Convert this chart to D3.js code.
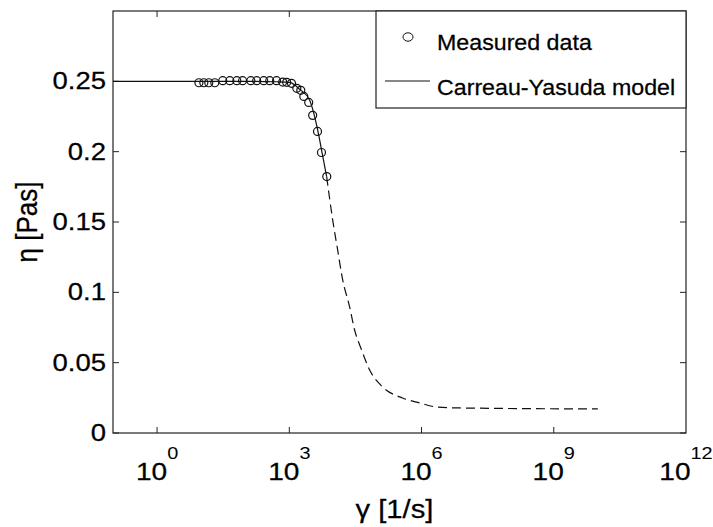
<!DOCTYPE html>
<html>
<head>
<meta charset="utf-8">
<script src="https://cdn.jsdelivr.net/npm/d3@7"></script>
<style>
  html, body { margin: 0; padding: 0; background: #fff; }
  svg { display: block; }
  text { font-family: "Liberation Sans", Arial, Helvetica, sans-serif; fill: #000; stroke: #000; stroke-width: 0.25; }
</style>
</head>
<body>
<svg id="chart" width="713" height="527"></svg>
<script>
// ---- data ----
const measuredGamma = [8.9, 11.5, 14.9, 20.4, 30.9, 44.7, 64.6, 87.1, 134, 182, 263, 360, 513,
  708, 871, 1122, 1479, 1820, 2138, 2754, 3388, 4365, 5370, 7079];
const measuredEta = [0.249, 0.249, 0.249, 0.249, 0.2505, 0.2505, 0.2505, 0.2505, 0.2505, 0.2505,
  0.2505, 0.2505, 0.2505, 0.2495, 0.2493, 0.2486, 0.245, 0.2436, 0.2393, 0.235, 0.2258, 0.2144,
  0.1994, 0.1823];

const modelSolidGamma = [0.1, 1, 10, 100, 500, 1021, 1722, 2897, 4395, 5715, 7031];
const modelSolidEta = [0.25, 0.25, 0.25, 0.25, 0.2497, 0.2493, 0.2443, 0.2365, 0.2155, 0.197, 0.1823];

const modelDashGamma = [7031, 9616, 12470, 16220, 23330, 30200, 43650, 66070, 130300, 369800,
  897000, 2.18e6, 7.24e6, 1e10];
const modelDashEta = [0.1823, 0.1517, 0.1303, 0.109, 0.0897, 0.0734, 0.0591, 0.0449, 0.0328,
  0.0249, 0.0214, 0.0185, 0.0178, 0.0171];

const xTickExponents = [0, 3, 6, 9, 12];
const yTickValues = [0, 0.05, 0.1, 0.15, 0.2, 0.25];
const yTickLabels = ["0", "0.05", "0.1", "0.15", "0.2", "0.25"];
const legendLabels = ["Measured data", "Carreau-Yasuda model"];
const xAxisLabel = "\u03B3 [1/s]";
const yAxisLabel = "\u03B7 [Pas]";

// ---- layout ----
const L = 113, R = 686, T = 11, B = 433;
const SX = 1.17; // horizontal glyph stretch seen in the reference

const svg = d3.select("#chart");
const x = d3.scaleLog().domain([0.1, 1e12]).range([L, R]);
const y = d3.scaleLinear().domain([0, 0.3]).range([B, T]);

const ink = "#111";

// frame
svg.append("rect").attr("x", L).attr("y", T).attr("width", R - L).attr("height", B - T)
  .attr("fill", "none").attr("stroke", "#222").attr("stroke-width", 1.2);

// ticks (inward, all four sides)
const tl = 6;
const xt = xTickExponents.map(e => Math.pow(10, e)).filter(v => v < 1e12);
xt.forEach(v => {
  const px = x(v);
  svg.append("line").attr("x1", px).attr("x2", px).attr("y1", B).attr("y2", B - tl).attr("stroke", "#222");
  svg.append("line").attr("x1", px).attr("x2", px).attr("y1", T).attr("y2", T + tl).attr("stroke", "#222");
});
yTickValues.forEach(v => {
  const py = y(v);
  svg.append("line").attr("x1", L).attr("x2", L + tl).attr("y1", py).attr("y2", py).attr("stroke", "#222");
  svg.append("line").attr("x1", R).attr("x2", R - tl).attr("y1", py).attr("y2", py).attr("stroke", "#222");
});

// y tick labels
yTickValues.forEach((v, i) => {
  svg.append("text")
    .attr("transform", `translate(${L - 7},${y(v) + 8}) scale(${SX},1)`)
    .attr("text-anchor", "end")
    .attr("font-size", 23.5)
    .text(yTickLabels[i]);
});

// x tick labels 10^n
xTickExponents.forEach(e => {
  const t = svg.append("text")
    .attr("transform", `translate(${x(Math.pow(10, e))},480) scale(${SX},1)`)
    .attr("text-anchor", "middle")
    .attr("font-size", 24);
  t.append("tspan").text("10");
  t.append("tspan").attr("dy", -21).attr("font-size", 17).attr("stroke-width", 0).text(String(e));
});

// axis labels
svg.append("text")
  .attr("transform", `translate(${(L + R) / 2 - 5},518) scale(${SX},1)`)
  .attr("text-anchor", "middle").attr("font-size", 25)
  .text(xAxisLabel);
svg.append("text")
  .attr("transform", `translate(37,${(T + B) / 2}) rotate(-90) scale(1,${SX})`)
  .attr("text-anchor", "middle").attr("font-size", 26)
  .text(yAxisLabel);

// model lines
const line = d3.line().x(d => x(d[0])).y(d => y(d[1])).curve(d3.curveMonotoneX);
svg.append("path")
  .datum(modelSolidGamma.map((g, i) => [g, modelSolidEta[i]]))
  .attr("d", line).attr("fill", "none").attr("stroke", ink).attr("stroke-width", 1.2);
svg.append("path")
  .datum(modelDashGamma.map((g, i) => [g, modelDashEta[i]]))
  .attr("d", line).attr("fill", "none").attr("stroke", ink).attr("stroke-width", 1.2)
  .attr("stroke-dasharray", "9,5");

// measured points
svg.append("g").selectAll("circle")
  .data(measuredGamma.map((g, i) => [g, measuredEta[i]]))
  .join("circle")
  .attr("cx", d => x(d[0])).attr("cy", d => y(d[1])).attr("r", 4)
  .attr("fill", "none").attr("stroke", ink).attr("stroke-width", 1.2);

// legend
const lg = svg.append("g");
lg.append("rect").attr("x", 376).attr("y", T).attr("width", R - 376).attr("height", 108 - T)
  .attr("fill", "#fff").attr("stroke", "#222").attr("stroke-width", 1.2);
lg.append("ellipse").attr("cx", 408).attr("cy", 37).attr("rx", 5).attr("ry", 4.2)
  .attr("fill", "none").attr("stroke", ink).attr("stroke-width", 1);
lg.append("line").attr("x1", 385).attr("x2", 430).attr("y1", 81).attr("y2", 81)
  .attr("stroke", ink).attr("stroke-width", 1.2);
[50, 95].forEach((by, i) => {
  lg.append("text")
    .attr("transform", `translate(437,${by}) scale(1.08,1)`)
    .attr("font-size", 21.5)
    .text(legendLabels[i]);
});
</script>
</body>
</html>
